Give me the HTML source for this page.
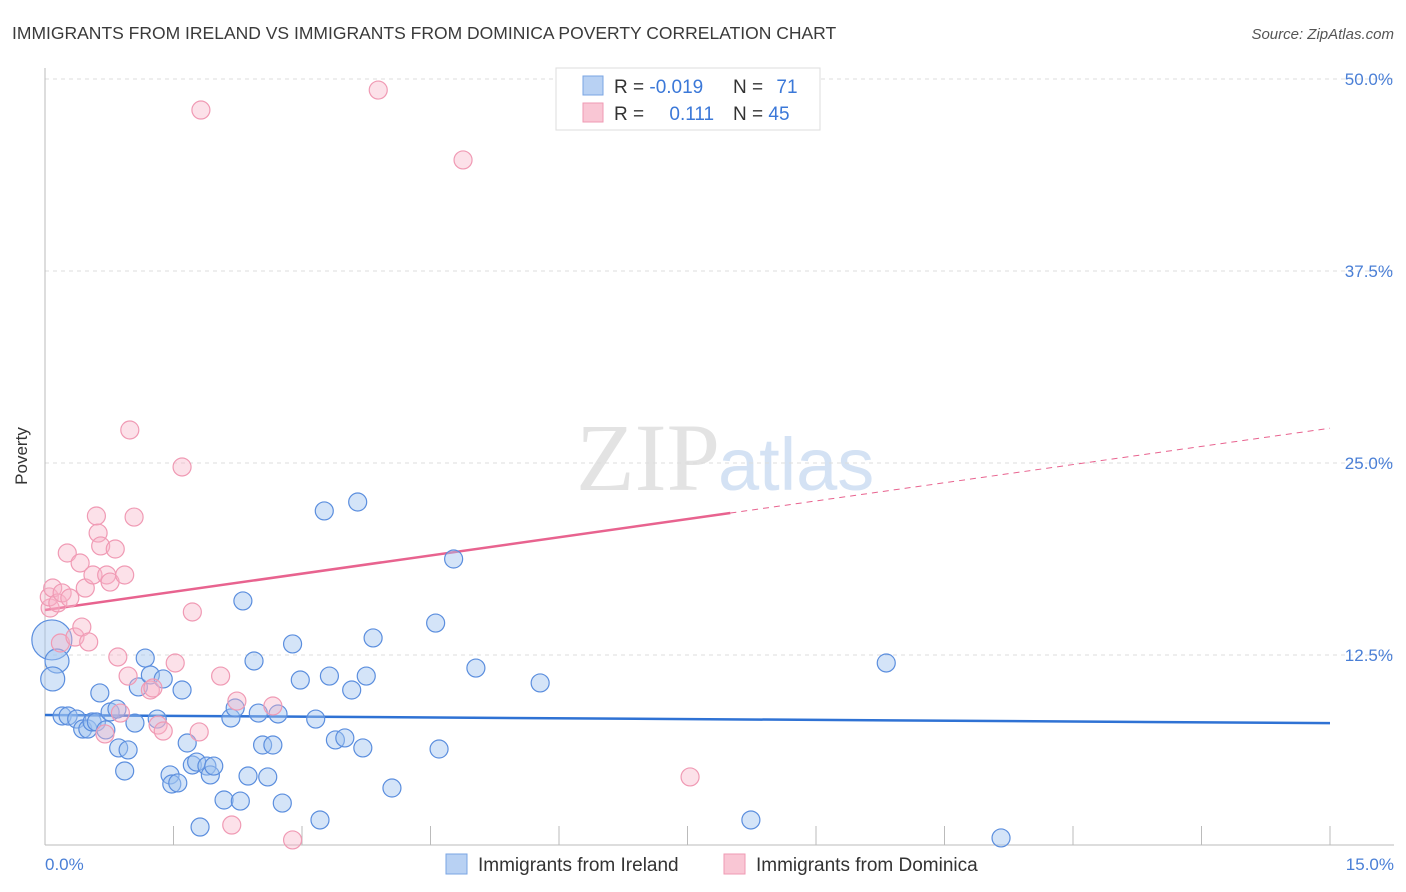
<!DOCTYPE html>
<html><head><meta charset="utf-8"><style>
body{margin:0;background:#fff;font-family:"Liberation Sans",sans-serif;}
svg{display:block}
</style></head><body>
<svg id="chart" width="1406" height="892" xmlns="http://www.w3.org/2000/svg">
<text x="12" y="39" font-size="17.5" fill="#3a3a3a">IMMIGRANTS FROM IRELAND VS IMMIGRANTS FROM DOMINICA POVERTY CORRELATION CHART</text>
<text x="1394" y="39" font-size="15" fill="#555" font-style="italic" text-anchor="end">Source: ZipAtlas.com</text>
<text x="720" y="490" font-size="96" fill="#e3e3e3" font-family="Liberation Serif" text-anchor="end">ZIP</text>
<text x="718" y="490" font-size="74" fill="#d4e2f4">atlas</text>
<g id="grid"></g>
<g id="axes"></g>
<g id="trends"></g>
<g id="points"></g>
<text x="27" y="456" font-size="17" fill="#333" transform="rotate(-90 27 456)" text-anchor="middle">Poverty</text>
<text x="45" y="870" font-size="17" fill="#4a7fd6">0.0%</text>
<text x="1394" y="870" font-size="17" fill="#4a7fd6" text-anchor="end">15.0%</text>
<g>
<rect x="556" y="68" width="264" height="62" fill="#fff" stroke="#ddd"/>
<rect x="583" y="76" width="20" height="19" fill="#b8d1f3" stroke="#7aa5e3"/>
<rect x="583" y="103" width="20" height="19" fill="#f9c6d4" stroke="#ef9ab3"/>
<text x="614" y="93" font-size="19" fill="#333">R = <tspan fill="#3b78d8">-0.019</tspan></text>
<text x="733" y="93" font-size="19" fill="#333">N = <tspan fill="#3b78d8" dx="8">71</tspan></text>
<text x="614" y="120" font-size="19" fill="#333">R = <tspan fill="#3b78d8" dx="20">0.111</tspan></text>
<text x="733" y="120" font-size="19" fill="#333">N = <tspan fill="#3b78d8">45</tspan></text>
</g>
<g>
<rect x="446" y="854" width="21" height="20" fill="#b8d1f3" stroke="#7aa5e3"/>
<text x="478" y="871" font-size="19" fill="#333">Immigrants from Ireland</text>
<rect x="724" y="854" width="21" height="20" fill="#f9c6d4" stroke="#ef9ab3"/>
<text x="756" y="871" font-size="19" fill="#333">Immigrants from Dominica</text>
</g>
</svg>
<script>
const yTicks=[12.5,25,37.5,50];
const yTickLabels=["12.5%","25.0%","37.5%","50.0%"];
const xTicks=[1.5,3,4.5,6,7.5,9,10.5,12,13.5,15];
const irelandX=[0.08,0.14,0.09,0.20,0.27,0.37,0.44,0.50,0.55,0.60,0.64,0.71,0.76,0.84,0.86,0.93,0.97,1.05,1.09,1.17,1.23,1.31,1.38,1.46,1.48,1.55,1.60,1.66,1.72,1.77,1.81,1.89,1.93,1.97,2.09,2.17,2.22,2.28,2.31,2.37,2.44,2.49,2.54,2.60,2.66,2.72,2.77,2.89,2.98,3.16,3.21,3.26,3.32,3.39,3.50,3.58,3.65,3.71,3.75,3.83,4.05,4.56,4.60,4.77,5.03,5.78,8.24,9.82,11.16];
const irelandY=[13.48,12.11,10.94,8.53,8.53,8.33,7.68,7.68,8.14,8.14,10.03,7.62,8.79,8.98,6.45,4.95,6.32,8.07,10.42,12.30,11.20,8.33,10.94,4.69,4.10,4.17,10.22,6.77,5.34,5.53,1.30,5.27,4.69,5.27,3.06,8.40,9.05,2.99,16.02,4.62,12.11,8.72,6.64,4.56,6.64,8.66,2.86,13.22,10.87,8.33,1.76,21.88,11.13,6.97,7.10,10.22,22.46,6.45,11.13,13.61,3.84,14.58,6.38,18.75,11.65,10.68,1.76,11.98,0.59];
const irelandSize=[20,12,12];
const dominicaX=[0.06,0.05,0.09,0.15,0.20,0.18,0.26,0.29,0.35,0.41,0.43,0.47,0.51,0.56,0.60,0.62,0.65,0.72,0.76,0.82,0.85,0.88,0.70,0.93,0.97,0.99,1.04,1.23,1.26,1.32,1.38,1.52,1.60,1.72,1.80,1.82,2.05,2.18,2.24,2.66,2.89,3.89,4.88,7.53];
const dominicaY=[15.56,16.28,16.86,15.89,16.54,13.28,19.14,16.21,13.67,18.49,14.32,16.86,13.35,17.71,21.55,20.44,19.60,17.71,17.25,19.40,12.37,8.72,7.36,17.71,11.13,27.15,21.48,10.22,10.35,7.94,7.55,11.98,24.74,15.30,7.49,47.98,11.13,1.43,9.50,9.18,0.46,49.28,44.73,4.56];
const irelandTrend=[8.59,-0.035];
const dominicaTrend=[15.43,0.789];
const dominicaSolidEnd=8.0;

const NS="http://www.w3.org/2000/svg";
const X0=45,X1=1330,Y0=847;
const xs=v=>X0+v/15*(X1-X0);
const ys=v=>Y0-v/12.5*192;
function mk(tag,attrs,parent){const e=document.createElementNS(NS,tag);for(const k in attrs)e.setAttribute(k,attrs[k]);document.getElementById(parent).appendChild(e);return e;}
yTicks.forEach((t,i)=>{
 const l=mk('line',{x1:X0,x2:1394,y1:ys(t),y2:ys(t),stroke:'#ddd','stroke-dasharray':'4,4'},'grid');
 
 
 const tx=mk('text',{x:1393,y:ys(t)+6,'font-size':17,fill:'#4a7fd6','text-anchor':'end'},'grid');
 tx.textContent=yTickLabels[i];
 
 
});
let a=mk('line',{x1:X0,x2:X0,y1:68,y2:845,stroke:'#bbb'},'axes');


a=mk('line',{x1:X0,x2:1394,y1:845,y2:845,stroke:'#bbb'},'axes');


xTicks.forEach(t=>{
 const l=mk('line',{x1:xs(t),x2:xs(t),y1:826,y2:845,stroke:'#bbb'},'axes');
 
 
});
irelandX.forEach((x,i)=>{
 const c=mk('circle',{cx:xs(x),cy:ys(irelandY[i]),r:irelandSize[i]||9,fill:'rgba(160,196,240,0.45)',stroke:'#5b8ede','stroke-width':1.2},'points');
 
 
});
dominicaX.forEach((x,i)=>{
 const c=mk('circle',{cx:xs(x),cy:ys(dominicaY[i]),r:9,fill:'rgba(248,180,200,0.4)',stroke:'#f09ab4','stroke-width':1.2},'points');
 
 
});
let t=mk('line',{x1:xs(0),y1:ys(irelandTrend[0]),x2:xs(15),y2:ys(irelandTrend[0]+irelandTrend[1]*15),stroke:'#2f72d4','stroke-width':2.5},'trends');


t=mk('line',{x1:xs(0),y1:ys(dominicaTrend[0]),x2:xs(dominicaSolidEnd),y2:ys(dominicaTrend[0]+dominicaTrend[1]*dominicaSolidEnd),stroke:'#e8638f','stroke-width':2.5},'trends');


t=mk('line',{x1:xs(dominicaSolidEnd),y1:ys(dominicaTrend[0]+dominicaTrend[1]*dominicaSolidEnd),x2:xs(15),y2:ys(dominicaTrend[0]+dominicaTrend[1]*15),stroke:'#e8638f','stroke-width':1,'stroke-dasharray':'6,5'},'trends');


</script>
</body></html>
